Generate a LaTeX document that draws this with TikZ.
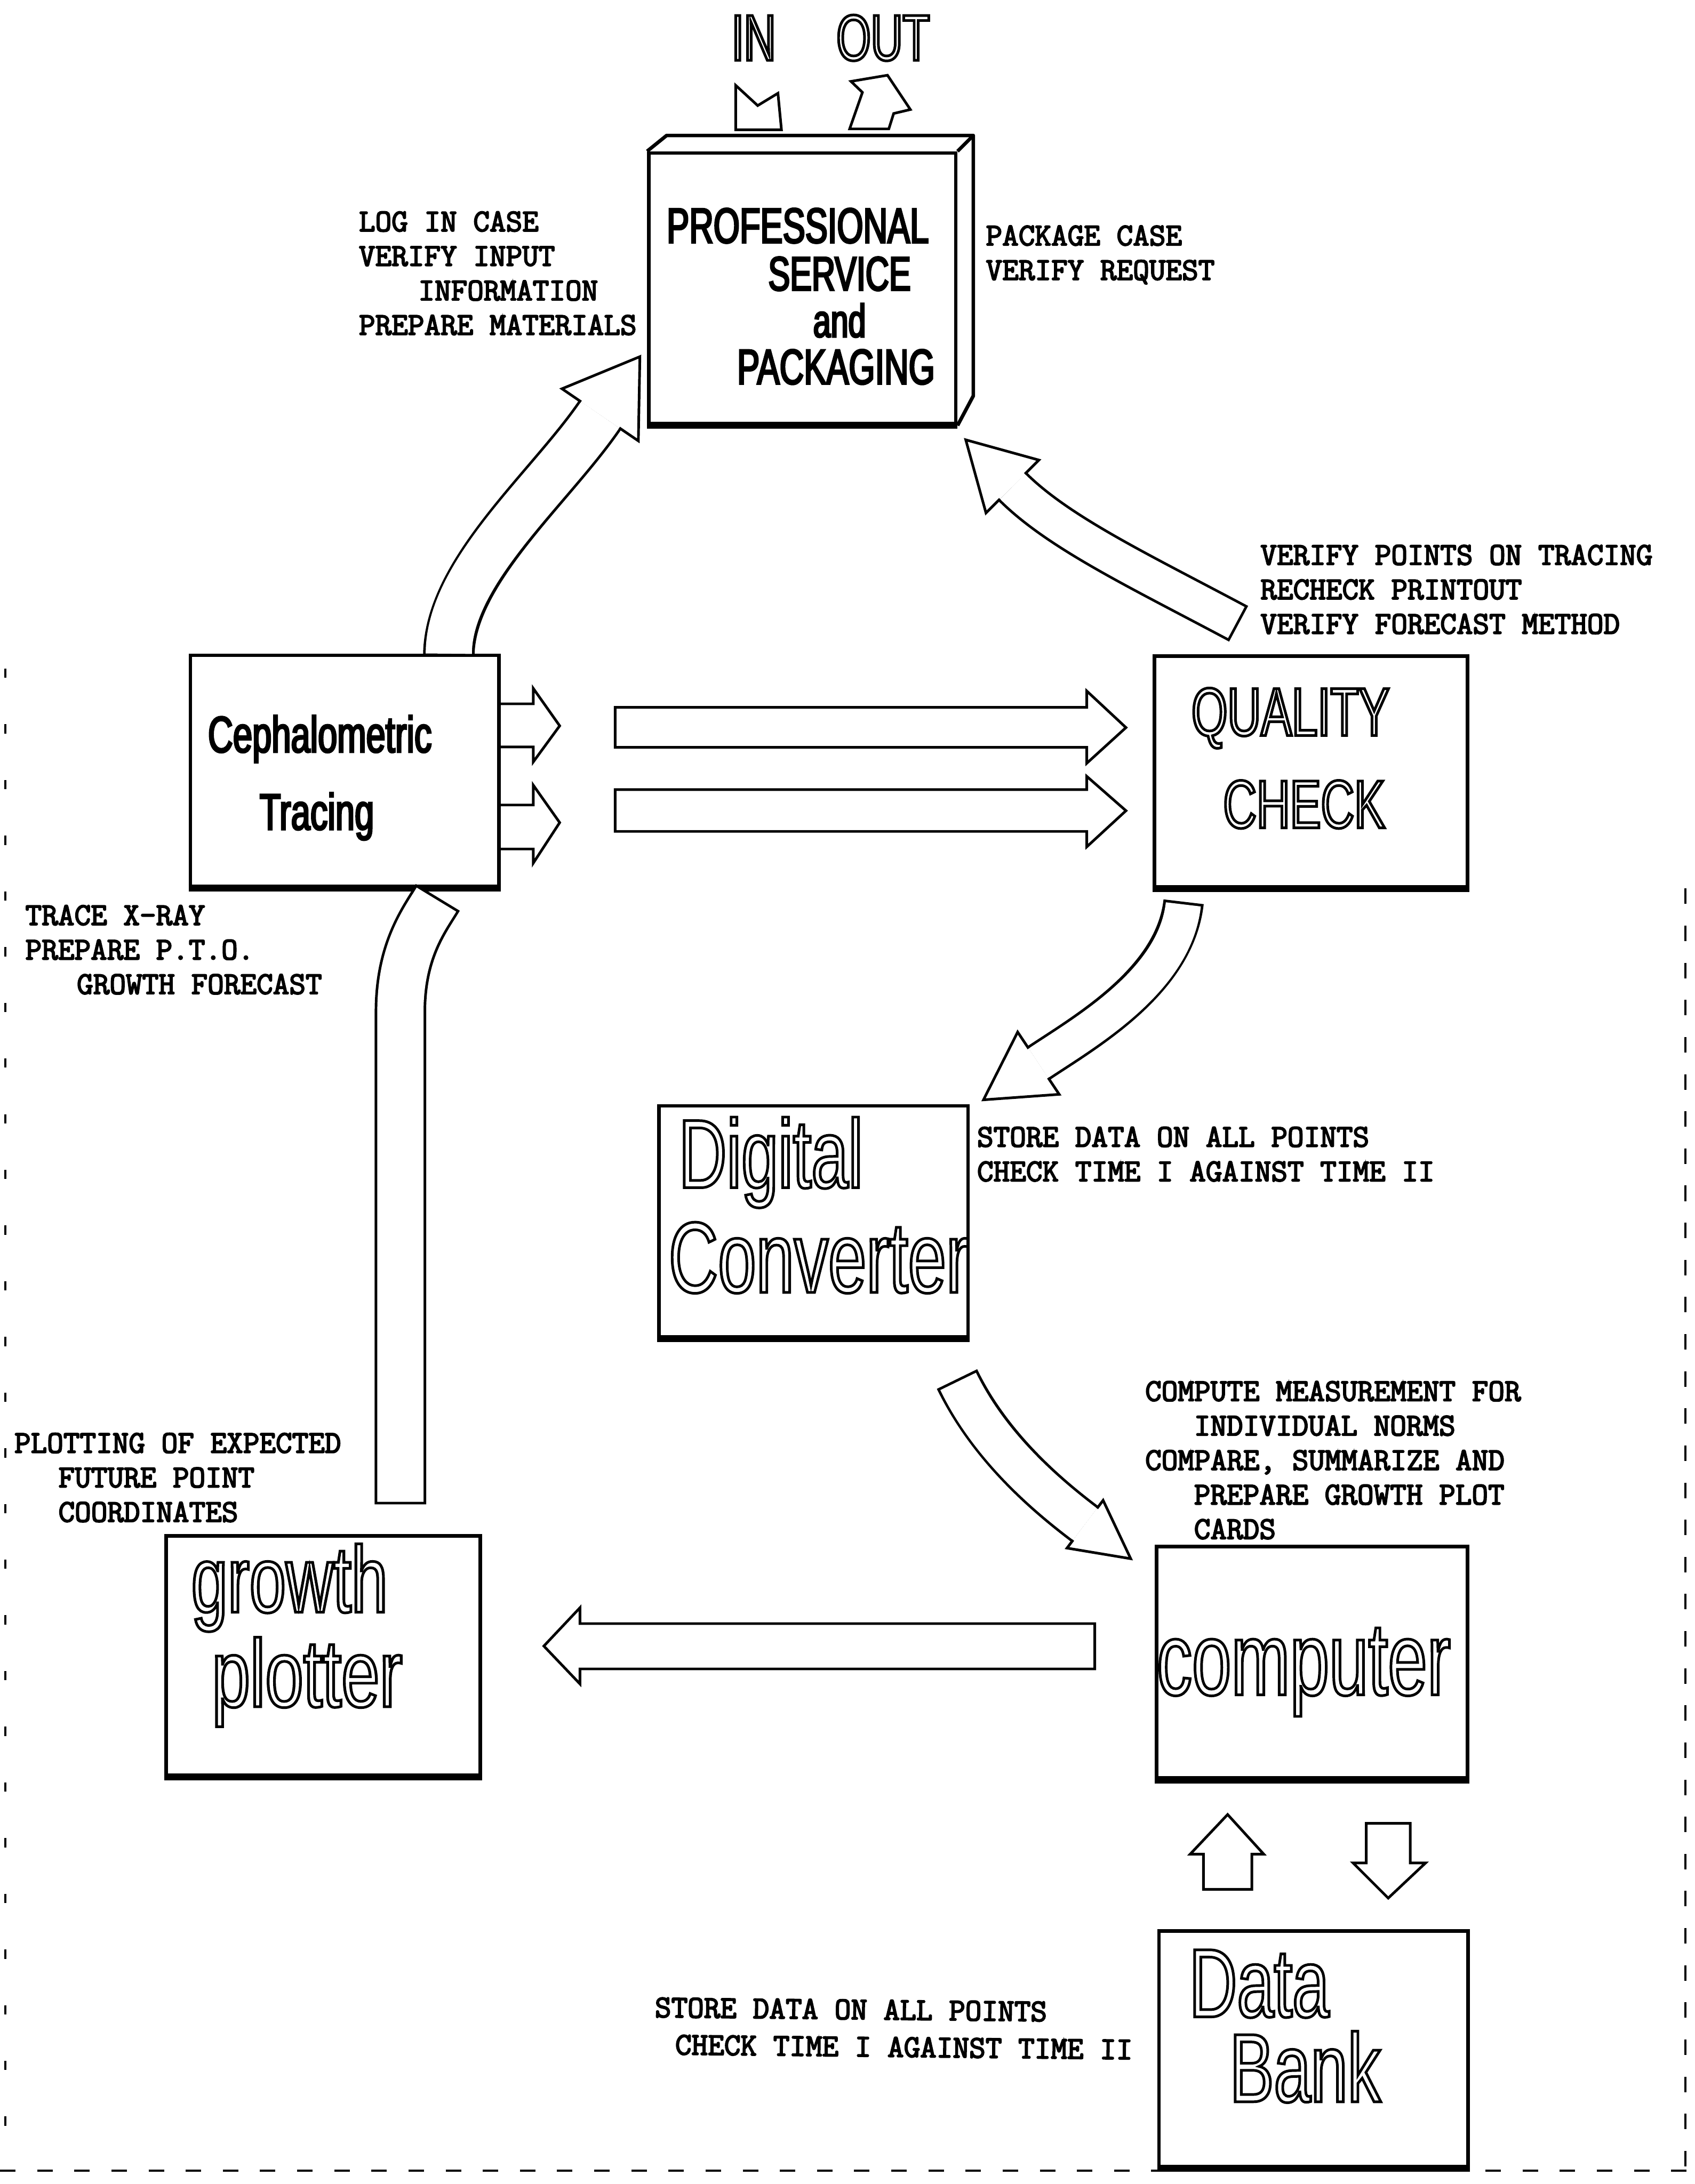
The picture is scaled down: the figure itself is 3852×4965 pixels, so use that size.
\documentclass[tikz,border=0pt]{standalone}
\usepackage{fontspec}
\newfontfamily\cond[FakeStretch=0.68]{Liberation Sans}
\usetikzlibrary{calc}
% outlined (hollow) letters and emboldened letters through the PDF text render mode
\newcommand\hollow[1]{\special{pdf:literal direct 1 Tr 1.7 w}#1\special{pdf:literal direct 0 Tr}}
\newcommand\embold{\special{pdf:literal direct 2 Tr 0.75 w}}
\newcommand\emboldtitle[1]{\special{pdf:literal direct 2 Tr 1.1 w}#1\special{pdf:literal direct 0 Tr}}
% curved block arrow: P0, C1, C2, P3, shaft width, half shaft, head half width, head length
\newcommand\bandarrow[8]{%
  \draw[line width={#5+3.4pt}] #1 .. controls #2 and #3 .. #4;
  \draw[white, line width=#5, shorten <=1.7pt] #1 .. controls #2 and #3 .. #4;
  \filldraw[blk] ($#4!#6!90:#3$) -- ($#4!#7!90:#3$) -- ($#4!-#8!#3$) -- ($#4!#7!-90:#3$) -- ($#4!#6!-90:#3$);
}
\begin{document}
\begin{tikzpicture}[x=0.01cm,y=-0.01cm,
  box/.style={draw, line width=2.3pt, inner sep=0pt},
  heavy/.style={line width=4.5pt},
  blk/.style={draw, line width=1.7pt, fill=white, line join=miter},
  lbl/.style={font=\ttfamily\fontsize{20.5}{22.3}\selectfont, align=left, inner sep=0pt, anchor=north west},
  ttl/.style={inner sep=0pt, anchor=base},
  ttlw/.style={inner sep=0pt, anchor=base west},
  edge/.style={line width=1.3pt, dash pattern=on 10pt off 14pt},
]
\fill[white] (0,0) rectangle (3852,4965);
\useasboundingbox (0,0) rectangle (3852,4965);

% ---------- boxes ----------
\node[box, minimum width=6.97cm, minimum height=6.15cm] (prof) at (1823.5,655.5) {};
\draw[line width=2.3pt, line join=round] (prof.north west) -- (1515,308) -- (2212,308) -- (2212,900) -- (prof.south east);
\draw[line width=2.3pt] (prof.north east) -- (2212,308);
\node[box, minimum width=7.01cm, minimum height=5.25cm] (ceph) at (783.5,1752.5) {};
\node[box, minimum width=7.11cm, minimum height=5.24cm] (qc) at (2979.5,1754) {};
\node[box, minimum width=7.02cm, minimum height=5.25cm] (dig) at (1849,2776.5) {};
\node[box, minimum width=7.06cm, minimum height=5.26cm] (comp) at (2982,3779) {};
\node[box, minimum width=7.13cm, minimum height=5.43cm] (grow) at (734.5,3763.5) {};
\node[box, minimum width=7.02cm, minimum height=5.35cm] (bank) at (2985,4657.5) {};
\foreach \b in {prof,ceph,qc,dig,comp,grow,bank}
  \draw[heavy] (\b.south west) -- (\b.south east);

% ---------- box titles ----------
\node[ttl, font=\cond\fontsize{42}{42}\selectfont] (tin) at (1713,137) {\hollow{IN}};
\node[ttl, font=\cond\fontsize{42}{42}\selectfont] (tout) at (2007,137) {\hollow{OUT}};
\node[ttl, font=\cond\fontsize{32}{32}\selectfont] (t1) at (1813,552) {\emboldtitle{PROFESSIONAL}};
\node[ttl, font=\cond\fontsize{31}{31}\selectfont] (t2) at (1908,660) {\emboldtitle{SERVICE}};
\node[ttl, font=\cond\fontsize{30}{30}\selectfont] (t3) at (1908,766) {\emboldtitle{and}};
\node[ttl, font=\cond\fontsize{32}{32}\selectfont] (t4) at (1900,873) {\emboldtitle{PACKAGING}};
\node[ttl, font=\cond\fontsize{33}{33}\selectfont] (t5) at (727,1710) {\emboldtitle{Cephalometric}};
\node[ttl, font=\cond\fontsize{33}{33}\selectfont] (t6) at (720,1886) {\emboldtitle{Tracing}};
\node[ttl, font=\cond\fontsize{44}{44}\selectfont] (t7) at (2933,1672) {\hollow{QUALITY}};
\node[ttl, font=\cond\fontsize{44}{44}\selectfont] (t8) at (2964,1882) {\hollow{CHECK}};
\node[ttlw, font=\cond\fontsize{63}{63}\selectfont] (t9) at (1542,2700) {\hollow{Digital}};
\node[ttlw, font=\cond\fontsize{65}{65}\selectfont] (t10) at (1519,2938) {\hollow{Converter}};
\node[ttl, font=\cond\fontsize{67}{67}\selectfont] (t11) at (2963,3853) {\hollow{computer}};
\node[ttlw, font=\cond\fontsize{61}{61}\selectfont, xscale=1.02] (t12) at (434,3665) {\hollow{growth}};
\node[ttlw, font=\cond\fontsize{62}{62}\selectfont, xscale=1.05] (t13) at (481,3880) {\hollow{plotter}};
\node[ttlw, font=\cond\fontsize{63}{63}\selectfont] (t14) at (2702,4585) {\hollow{Data}};
\node[ttlw, font=\cond\fontsize{63}{63}\selectfont] (t15) at (2794,4778) {\hollow{Bank}};

% ---------- labels ----------
\node[lbl] (l1) at (815,480) {\embold LOG IN CASE\\VERIFY INPUT\\\hspace*{1.35cm}INFORMATION\\PREPARE MATERIALS};
\node[lbl] (l2) at (2240,512) {\embold PACKAGE CASE\\VERIFY REQUEST};
\node[lbl] (l3) at (2864,1238) {\embold VERIFY POINTS ON TRACING\\RECHECK PRINTOUT\\VERIFY FORECAST METHOD};
\node[lbl] (l4) at (57,2057) {\embold TRACE X-RAY\\PREPARE P.T.O.\\\hspace*{1.17cm}GROWTH FORECAST};
\node[lbl] (l5) at (2220,2561) {\embold STORE DATA ON ALL POINTS\\CHECK TIME I AGAINST TIME II};
\node[lbl] (l6) at (2602,3139) {\embold COMPUTE MEASUREMENT FOR\\\hspace*{1.11cm}INDIVIDUAL NORMS\\COMPARE, SUMMARIZE AND\\\hspace*{1.11cm}PREPARE GROWTH PLOT\\\hspace*{1.11cm}CARDS};
\node[lbl] (l7) at (32,3257) {\embold PLOTTING OF EXPECTED\\\hspace*{1.0cm}FUTURE POINT\\\hspace*{1.0cm}COORDINATES};
\node[lbl, font=\ttfamily\fontsize{20.5}{24}\selectfont, rotate=-0.6] (l8) at (1488,4540) {\embold STORE DATA ON ALL POINTS\\\hspace*{0.47cm}CHECK TIME I AGAINST TIME II};

% ---------- IN / OUT marks ----------
\filldraw[blk] (1672,194) -- (1722,240) -- (1768,212) -- (1776,295) -- (1672,295) -- cycle;
\filldraw[blk] (1934,185) -- (2017,171) -- (2069,249) -- (2031,258) -- (2020,293) -- (1931,293) -- (1960,210) -- cycle;

% ---------- straight block arrows ----------
\filldraw[blk] (ceph.east |- 0,1600) -- (1212,1600) -- (1212,1565) -- (1272,1650) -- (1212,1732) -- (1212,1698) -- (ceph.east |- 0,1698);
\filldraw[blk] (ceph.east |- 0,1830) -- (1212,1830) -- (1212,1785) -- (1272,1870) -- (1212,1962) -- (1212,1930) -- (ceph.east |- 0,1930);
\filldraw[blk] (1398,1608) -- (2470,1608) -- (2470,1571) -- (2559,1654) -- (2470,1735) -- (2470,1699) -- (1398,1699) -- cycle;
\filldraw[blk] (1398,1795) -- (2470,1795) -- (2470,1765) -- (2559,1843) -- (2470,1925) -- (2470,1890) -- (1398,1890) -- cycle;
\filldraw[blk] (2488,3691) -- (1318,3691) -- (1318,3655) -- (1236,3742) -- (1318,3828) -- (1318,3794) -- (2488,3794) -- cycle;
\filldraw[blk] (2735,4295) -- (2735,4215) -- (2705,4215) -- (2790,4125) -- (2872,4215) -- (2845,4215) -- (2845,4295) -- cycle;
\filldraw[blk] (3105,4145) -- (3205,4145) -- (3205,4235) -- (3240,4235) -- (3155,4315) -- (3075,4235) -- (3105,4235) -- cycle;

% ---------- curved block arrows ----------
\coordinate (aT) at (1020,1492); \coordinate (aH) at (1364,943);
\bandarrow{(aT)}{(1020,1300)}{(1250,1110)}{(aH)}{1.05cm}{0.525cm}{1.05cm}{1.6cm}
\coordinate (bT) at (2815,1418); \coordinate (bH) at (2301,1106);
\bandarrow{(bT)}{(2590,1298)}{(2406,1211)}{(bH)}{0.8cm}{0.4cm}{0.85cm}{1.5cm}
\coordinate (cT) at (2690,2050); \coordinate (cH) at (2360,2417);
\bandarrow{(cT)}{(2670,2230)}{(2468,2345)}{(cH)}{0.8cm}{0.4cm}{0.85cm}{1.5cm}
\coordinate (dT) at (2175,3135); \coordinate (dH) at (2466,3465);
\bandarrow{(dT)}{(2250,3290)}{(2380,3400)}{(dH)}{0.9cm}{0.45cm}{0.68cm}{1.3cm}
% band from growth plotter up to cephalometric tracing
\coordinate (eB) at (910,3420); \coordinate (eT) at (995,2040);
\draw[line width={1.05cm+3.4pt}] (eB) -- (910,2300) .. controls (910,2160) and (965,2090) .. (eT);
\draw[white, line width=1.05cm, shorten <=1.7pt, shorten >=1.7pt] (eB) -- (910,2300) .. controls (910,2160) and (965,2090) .. (eT);

% ---------- scan edges ----------
\draw[edge] (3830,2020) -- (3830,4935);
\draw[edge, dash pattern=on 6pt off 30pt] (12,1520) -- (12,4935);
\draw[edge] (0,4935) -- (3852,4935);
\end{tikzpicture}
\end{document}
